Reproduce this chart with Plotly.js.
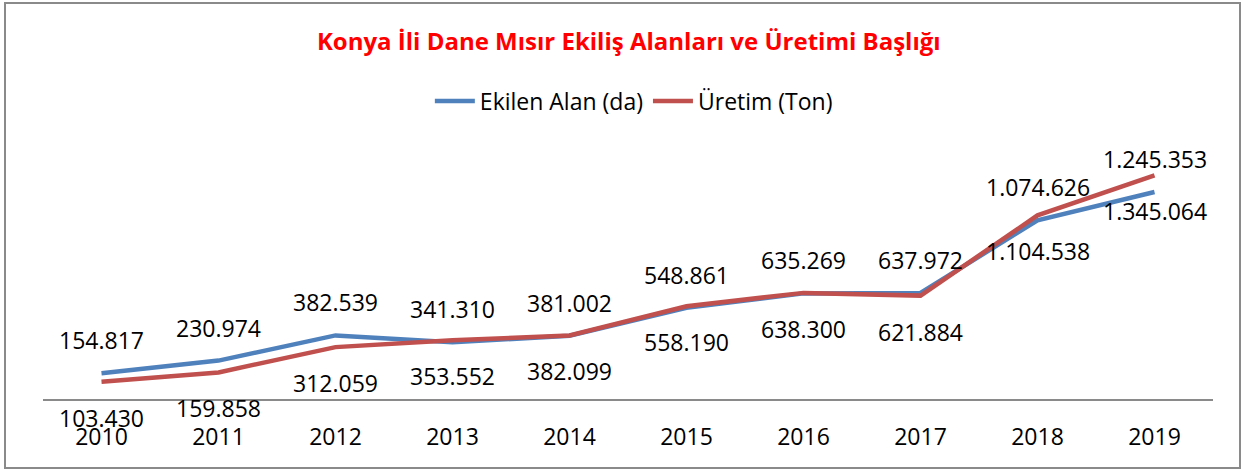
<!DOCTYPE html>
<html>
<head>
<meta charset="utf-8">
<script src="https://cdn.plot.ly/plotly-3.0.1.min.js"></script>
<style>
  body { margin:0; padding:0; background:#fff; }
  #wrap { position:relative; width:1250px; height:471px; }
  #chart { position:absolute; left:0; top:0; width:1250px; height:471px; }
  #frame { position:absolute; left:4px; top:2px; width:1233px; height:463px; border:2px solid #8a8a8a; pointer-events:none; }
</style>
</head>
<body>
<div id="wrap"><div id="chart"></div><div id="frame"></div></div>
<script>
const years = ['2010','2011','2012','2013','2014','2015','2016','2017','2018','2019'];
const ekilenAlan = [154817, 230974, 382539, 341310, 381002, 548861, 635269, 637972, 1074626, 1245353];
const uretim = [103430, 159858, 312059, 353552, 382099, 558190, 638300, 621884, 1104538, 1345064];
const ekilenLabels = ['154.817','230.974','382.539','341.310','381.002','548.861','635.269','637.972','1.074.626','1.245.353'];
const uretimLabels = ['103.430','159.858','312.059','353.552','382.099','558.190','638.300','621.884','1.104.538','1.345.064'];

const FONT = '"Open Sans", "Noto Sans", sans-serif';

const traces = [
  { x: years, y: ekilenAlan, type: 'scatter', mode: 'lines', name: 'Ekilen Alan (da)',
    line: { color: '#4F81BD', width: 4.5 } },
  { x: years, y: uretim, type: 'scatter', mode: 'lines', name: 'Üretim (Ton)',
    line: { color: '#C0504D', width: 4.5 } }
];

const annotations = [];
years.forEach((yr, i) => {
  annotations.push({ x: i, y: ekilenAlan[i], xref: 'x', yref: 'y', text: ekilenLabels[i],
    showarrow: false, yshift: 33, font: { family: FONT, size: 23, color: '#000' } });
  annotations.push({ x: i, y: uretim[i], xref: 'x', yref: 'y', text: uretimLabels[i],
    showarrow: false, yshift: -36, font: { family: FONT, size: 23, color: '#000' } });
});

const layout = {
  width: 1250, height: 471,
  margin: { l: 43, r: 37, t: 133, b: 72 },
  paper_bgcolor: '#fff', plot_bgcolor: '#fff',
  font: { family: FONT, color: '#000' },
  title: { text: '<b>Konya İli Dane Mısır Ekiliş Alanları ve Üretimi Başlığı</b>',
    font: { family: FONT, size: 24, color: '#FF0000' },
    x: 0.503, xanchor: 'center', y: 1 - 42/471, yanchor: 'middle', yref: 'container' },
  showlegend: true,
  legend: { orientation: 'h', x: 0.505, xanchor: 'center', y: 1 - 101/471, yanchor: 'middle', yref: 'container',
    font: { family: FONT, size: 23, color: '#000' }, itemwidth: 40, bgcolor: 'rgba(0,0,0,0)' },
  xaxis: { type: 'category', range: [-0.5, 9.5], showgrid: false, zeroline: false,
    showline: true, linecolor: '#8a8a8a', linewidth: 1.5,
    ticks: 'outside', ticklen: 17, tickcolor: 'rgba(0,0,0,0)',
    tickfont: { family: FONT, size: 23, color: '#000' }, fixedrange: true },
  yaxis: { range: [0, 1600000], visible: false, showgrid: false, zeroline: false, fixedrange: true },
  annotations: annotations
};

Plotly.newPlot('chart', traces, layout, { displayModeBar: false, staticPlot: true });
</script>
</body>
</html>
